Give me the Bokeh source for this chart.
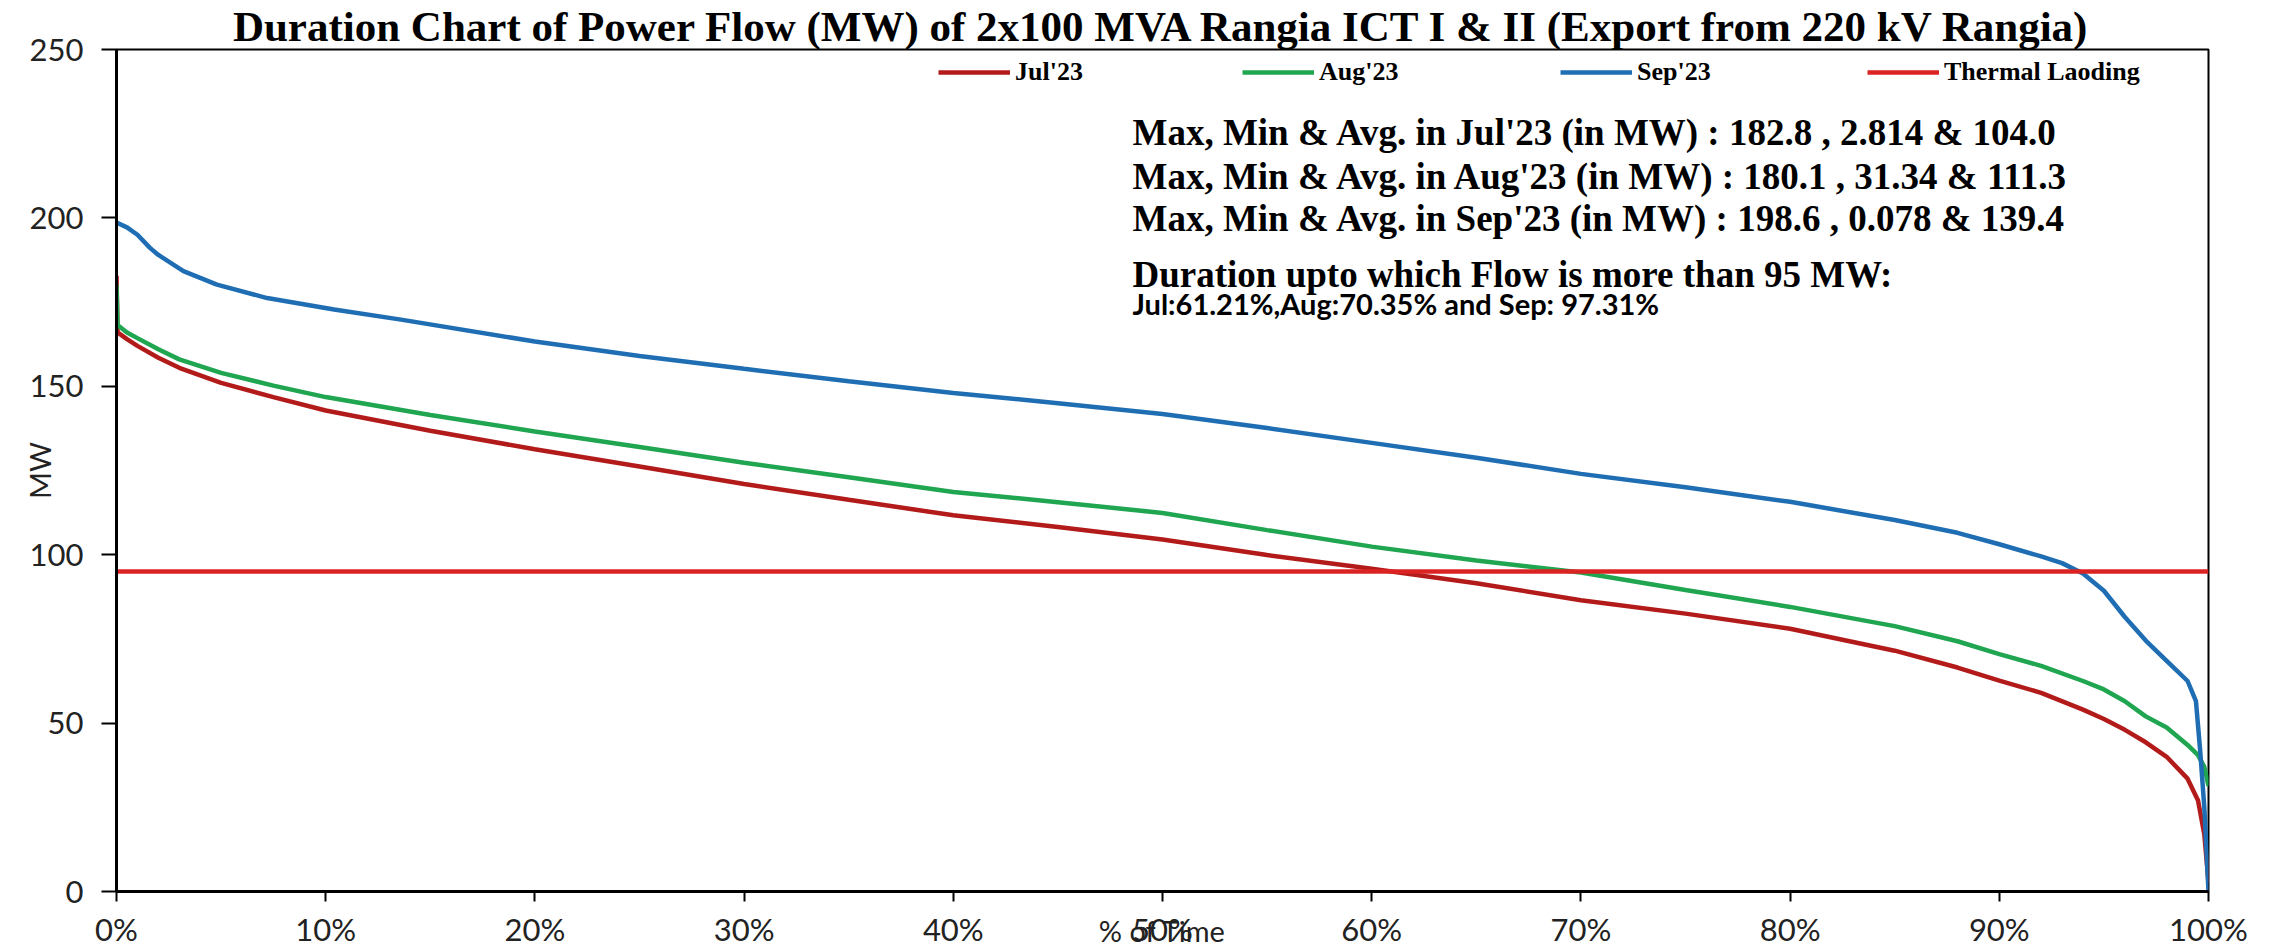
from bokeh.plotting import figure
from bokeh.models import (Range1d, FixedTicker, PrintfTickFormatter, Label,
                          Legend, LegendItem)
from bokeh.embed import file_html
from bokeh.resources import INLINE

# ---------------- data (MW vs % of time) ----------------
pct_jul = [0, 0.05, 0.5, 1, 2, 3, 5, 7.5, 10, 15, 20, 25, 30, 35, 40, 45, 50, 55,
           60, 65, 70, 75, 80, 85, 88, 90, 92, 94, 95, 96, 97, 98, 99, 99.5, 99.8, 100]
mw_jul = [182.8, 166.0, 164.0, 162.0, 158.5, 155.5, 151.0, 146.8, 142.8, 136.8,
          131.3, 126.2, 121.0, 116.3, 111.7, 108.2, 104.5, 99.9, 95.8, 91.5,
          86.5, 82.5, 78.0, 71.5, 66.5, 62.6, 59.0, 54.0, 51.2, 48.0, 44.3,
          40.0, 33.5, 27.0, 17.0, 2.814]

pct_aug = [0, 0.05, 0.5, 1, 2, 3, 5, 7.5, 10, 15, 20, 25, 30, 35, 40, 45, 50, 55,
           60, 65, 70, 75, 80, 85, 88, 90, 92, 94, 95, 96, 97, 98, 99, 99.5, 99.8, 100]
mw_aug = [180.1, 168.2, 166.0, 164.3, 161.0, 158.0, 154.0, 150.2, 146.8, 141.5,
          136.6, 132.0, 127.3, 123.0, 118.6, 115.6, 112.4, 107.3, 102.4, 98.3,
          94.7, 89.5, 84.5, 78.8, 74.3, 70.5, 67.0, 62.5, 60.0, 56.5, 52.0,
          48.7, 43.5, 40.5, 37.0, 31.34]

pct_sep = [0, 0.5, 1, 1.6, 2, 3.2, 4.8, 7.2, 10.4, 13.6, 20, 25, 30, 35, 40, 45, 50,
           55, 60, 65, 70, 75, 80, 85, 88, 90, 92, 93, 94, 95, 96, 97, 98, 99, 99.4,
           99.6, 99.8, 100]
mw_sep = [198.6, 197.2, 195.0, 191.1, 189.0, 184.2, 180.2, 176.2, 172.8, 169.8,
          163.3, 159.0, 155.2, 151.5, 148.0, 145.0, 141.8, 137.6, 133.2, 128.8,
          124.0, 120.0, 115.7, 110.3, 106.5, 103.1, 99.5, 97.5, 94.4, 89.3, 81.5,
          74.5, 68.5, 62.5, 56.5, 42.0, 25.0, 0.078]

thermal_x = [0, 100]
thermal_y = [95, 95]

x_ticks = [0, 10, 20, 30, 40, 50, 60, 70, 80, 90, 100]
y_ticks = [0, 50, 100, 150, 200, 250]

title_text = "Duration Chart of Power Flow (MW) of 2x100 MVA Rangia ICT I & II (Export from 220 kV Rangia)"
info_lines = [
    "Max, Min & Avg. in Jul'23 (in MW) : 182.8 , 2.814  & 104.0",
    "Max, Min & Avg. in Aug'23 (in MW) : 180.1 , 31.34  & 111.3",
    "Max, Min & Avg. in Sep'23 (in MW) : 198.6 , 0.078  & 139.4",
    "Duration upto which Flow is more than 95 MW:",
]
info_small = "Jul:61.21%,Aug:70.35% and Sep: 97.31%"

# ---------------- colours ----------------
c_jul = "#B31B1B"
c_aug = "#20A550"
c_sep = "#1F6EB4"
c_th = "#DC2323"

SERIF = "Liberation Serif"
SANS = "Lato"

p = figure(width=2280, height=950, output_backend="svg", toolbar_location=None,
           x_range=Range1d(0, 100), y_range=Range1d(0, 250),
           min_border_left=116, min_border_right=72, min_border_top=48,
           min_border_bottom=59)
p.background_fill_color = "white"
p.border_fill_color = "white"
p.outline_line_color = "black"
p.outline_line_width = 2
p.xgrid.visible = False
p.ygrid.visible = False

# title
p.title.text = title_text
p.title.align = "center"
p.title.text_font = SERIF
p.title.text_font_style = "bold"
p.title.text_font_size = "43px"
p.title.text_color = "black"
p.title.standoff = 0
p.title.offset = 0

# axes
p.xaxis.ticker = FixedTicker(ticks=x_ticks)
p.xaxis.formatter = PrintfTickFormatter(format="%d%%")
p.yaxis.ticker = FixedTicker(ticks=y_ticks)
for ax in (p.xaxis[0], p.yaxis[0]):
    ax.axis_line_color = "black"
    ax.axis_line_width = 3
    ax.major_tick_line_color = "black"
    ax.major_tick_line_width = 2
    ax.major_tick_in = 0
    ax.minor_tick_line_color = None
    ax.major_label_text_font = SANS
    ax.major_label_text_font_size = "31px"
    ax.major_label_text_color = "#222222"
    ax.axis_label_text_font = SANS
    ax.axis_label_text_font_size = "29px"
    ax.axis_label_text_font_style = "normal"
    ax.axis_label_text_color = "#222222"
p.xaxis.major_tick_out = 10
p.xaxis.major_label_standoff = 8
p.xaxis.axis_label = "% of Time"
p.xaxis.axis_label_standoff = -38
p.yaxis.major_tick_out = 15
p.yaxis.major_label_standoff = 18
p.yaxis.axis_label = "MW"
p.yaxis.axis_label_standoff = -30

# series
r_jul = p.line(pct_jul, mw_jul, line_color=c_jul, line_width=4.5)
r_aug = p.line(pct_aug, mw_aug, line_color=c_aug, line_width=4.5)
r_sep = p.line(pct_sep, mw_sep, line_color=c_sep, line_width=4.5)
r_th = p.line(thermal_x, thermal_y, line_color=c_th, line_width=4.5)

# legends (one item each, placed like the reference)
legend_specs = [("Jul'23", r_jul, 822), ("Aug'23", r_aug, 1126),
                ("Sep'23", r_sep, 1444), ("Thermal Laoding", r_th, 1751)]
for lbl, rend, lx in legend_specs:
    lg = Legend(items=[LegendItem(label=lbl, renderers=[rend])],
                location=(lx, 804), orientation="horizontal",
                border_line_color=None, background_fill_alpha=0,
                padding=0, margin=0, spacing=0,
                glyph_width=72, glyph_height=24, label_standoff=5,
                label_height=24,
                label_text_font=SERIF, label_text_font_style="bold",
                label_text_font_size="26px", label_text_color="black")
    p.add_layout(lg)

# info text block (screen units relative to the plot frame)
info_y = [759, 715, 673, 617]
for t, yy in zip(info_lines, info_y):
    p.add_layout(Label(x=1016, y=yy, x_units="screen", y_units="screen",
                       text=t, text_align="left", text_baseline="middle",
                       text_font=SERIF, text_font_style="bold",
                       text_font_size="37px", text_color="black"))
p.add_layout(Label(x=1016, y=588, x_units="screen", y_units="screen",
                   text=info_small, text_align="left", text_baseline="middle",
                   text_font=SANS, text_font_style="bold",
                   text_font_size="29px", text_color="black"))

open("out.html", "w").write(file_html(p, INLINE))
